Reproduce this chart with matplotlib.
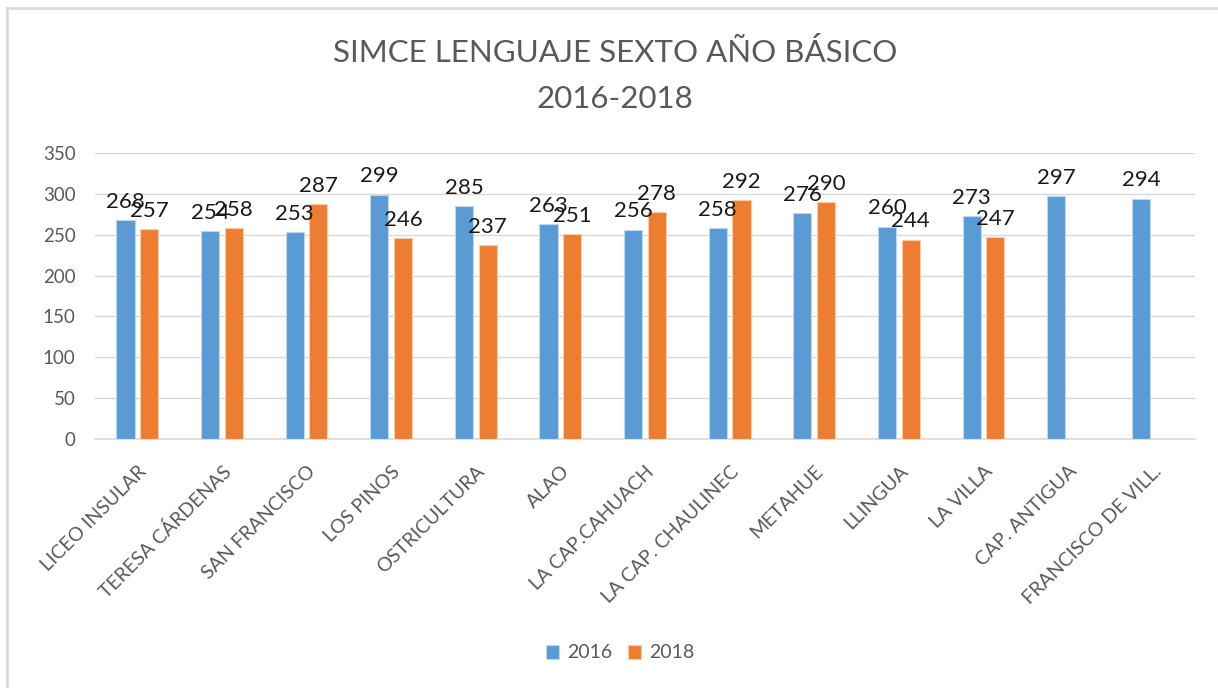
import matplotlib
matplotlib.use("Agg")
import matplotlib.pyplot as plt
import numpy as np
from matplotlib.patches import Rectangle

# data
escuelas = ["LICEO INSULAR", "TERESA CÁRDENAS", "SAN FRANCISCO", "LOS PINOS",
            "OSTRICULTURA", "ALAO", "LA CAP.CAHUACH", "LA CAP. CHAULINEC",
            "METAHUE", "LLINGUA", "LA VILLA", "CAP. ANTIGUA", "FRANCISCO DE VILL."]
simce_2016 = [268, 254, 253, 299, 285, 263, 256, 258, 276, 260, 273, 297, 294]
simce_2018 = [257, 258, 287, 246, 237, 251, 278, 292, 290, 244, 247, None, None]

azul = "#5B9BD5"
naranjo = "#ED7D31"
gris = "#595959"

plt.rcParams["font.family"] = ["Lato", "DejaVu Sans"]

fig = plt.figure(figsize=(12.18, 6.88), dpi=100)
ax = fig.add_axes([95 / 1218, 1 - 439 / 688, 1100 / 1218, 286 / 688])

x = np.arange(len(escuelas))
ancho = 0.215
off = 0.14

v16 = np.array(simce_2016, dtype=float)
v18 = np.array([np.nan if v is None else v for v in simce_2018], dtype=float)

b1 = ax.bar(x - off, v16, ancho, color=azul, edgecolor="#BDD7EE", linewidth=0.8,
            label="2016", zorder=3)
b2 = ax.bar(x + off, v18, ancho, color=naranjo, edgecolor="#F8CBAD", linewidth=0.8,
            label="2018", zorder=3)

for barras, vals in ((b1, v16), (b2, v18)):
    for rect, v in zip(barras, vals):
        if np.isnan(v):
            continue
        ax.annotate(f"{int(v)}", (rect.get_x() + rect.get_width() / 2, v),
                    xytext=(0, 6), textcoords="offset points",
                    ha="center", va="bottom", fontsize=16, color="#1a1a1a", zorder=5)

ax.set_xlim(-0.5, len(escuelas) - 0.5)
ax.set_ylim(0, 350)
ax.set_yticks(range(0, 351, 50))
ax.yaxis.grid(True, color="#D9D9D9", linewidth=1)
ax.set_axisbelow(True)
for s in ("top", "right", "left"):
    ax.spines[s].set_visible(False)
ax.spines["bottom"].set_color("#D9D9D9")
ax.spines["bottom"].set_linewidth(1.2)
ax.tick_params(length=0, colors=gris, labelsize=13.5)
ax.tick_params(axis="y", pad=14)
ax.set_xticks(x)
ax.set_xticklabels(escuelas, rotation=45, ha="right", rotation_mode="anchor",
                   fontsize=14)
ax.tick_params(axis="x", pad=17)

fig.text(615 / 1218, 1 - 52 / 688, "SIMCE LENGUAJE SEXTO AÑO BÁSICO",
         ha="center", va="center", fontsize=22.5, color=gris)
fig.text(615 / 1218, 1 - 99 / 688, "2016-2018",
         ha="center", va="center", fontsize=22.5, color=gris)

fig.legend(handles=[b1, b2], labels=["2016", "2018"], loc="center",
           bbox_to_anchor=(620 / 1218, 1 - 653 / 688), ncol=2, frameon=False,
           fontsize=14, labelcolor=gris, handlelength=0.7, handleheight=0.7,
           handletextpad=0.4, columnspacing=0.8)

# light frame of the chart area
fig.patches.append(Rectangle((7 / 1218, -0.1), 1.2, 1 - 8 / 688 + 0.1,
                             transform=fig.transFigure, fill=False,
                             edgecolor="#D9D9D9", linewidth=2))

fig.savefig("out.png", dpi=100)
